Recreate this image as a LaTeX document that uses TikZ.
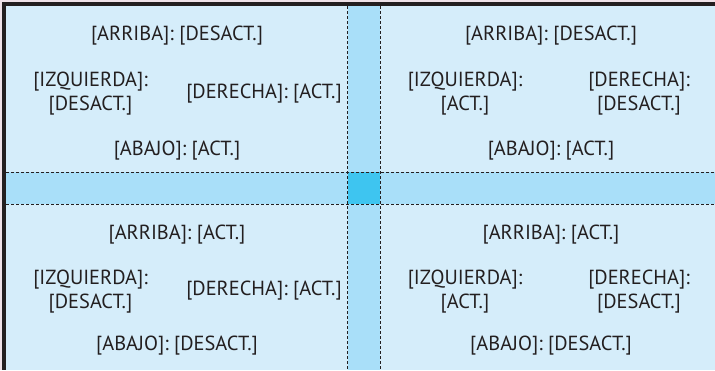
\documentclass[tikz,border=0pt]{standalone}
\usepackage{fontspec}
\setmainfont{PT Sans}
\definecolor{bgblue}{HTML}{D5EDFA}
\definecolor{bandblue}{HTML}{A9DFF9}
\definecolor{centerblue}{HTML}{3EC5F0}
\definecolor{inkgray}{HTML}{231F20}
\definecolor{edgepink}{HTML}{EFE2E8}
\tikzset{
  lbl/.style={inner sep=0pt, align=center, text=inkgray, font=\fontsize{20.4}{24}\selectfont},
  sep/.style={draw=inkgray, line width=0.9pt, dash pattern=on 3pt off 2pt},
}
\begin{document}
\begin{tikzpicture}[x=1pt,y=-1pt]
\useasboundingbox (0,0) rectangle (715,370);
\fill[edgepink] (0,0) rectangle (715,370);
\fill[bgblue] (2,2) rectangle (715,370);
% bands
\fill[bandblue] (347.5,6) rectangle (380,370);
\fill[bandblue] (6,172) rectangle (715,204);
\fill[centerblue] (347.5,172) rectangle (380,204);
% dashed separators
\draw[sep] (6,172) -- (715,172);
\draw[sep] (6,204) -- (715,204);
\draw[sep] (347.5,6) -- (347.5,370);
\draw[sep] (380,6) -- (380,370);
% dark frame top and left
\fill[inkgray] (2,2) rectangle (715,6);
\fill[inkgray] (2,2) rectangle (6,370);
% top-left
\node[lbl] (tlu) at (177,36) {[ARRIBA]: [DESACT.]};
\node[lbl] (tll) at (90.5,94) {[IZQUIERDA]:\\{}[DESACT.]};
\node[lbl] (tlr) at (264,94) {[DERECHA]: [ACT.]};
\node[lbl] (tld) at (177,151) {[ABAJO]: [ACT.]};
% top-right
\node[lbl] (tru) at (551,36) {[ARRIBA]: [DESACT.]};
\node[lbl] (trl) at (465,94) {[IZQUIERDA]:\\{}[ACT.]};
\node[lbl] (trr) at (639,94) {[DERECHA]:\\{}[DESACT.]};
\node[lbl] (trd) at (551,151) {[ABAJO]: [ACT.]};
% bottom-left
\node[lbl] (blu) at (177,235) {[ARRIBA]: [ACT.]};
\node[lbl] (bll) at (90.5,291.5) {[IZQUIERDA]:\\{}[DESACT.]};
\node[lbl] (blr) at (264,291) {[DERECHA]: [ACT.]};
\node[lbl] (bld) at (177,346) {[ABAJO]: [DESACT.]};
% bottom-right
\node[lbl] (bru) at (551,235) {[ARRIBA]: [ACT.]};
\node[lbl] (brl) at (465,291.5) {[IZQUIERDA]:\\{}[ACT.]};
\node[lbl] (brr) at (639,291.5) {[DERECHA]:\\{}[DESACT.]};
\node[lbl] (brd) at (551,346) {[ABAJO]: [DESACT.]};
\end{tikzpicture}
\end{document}
